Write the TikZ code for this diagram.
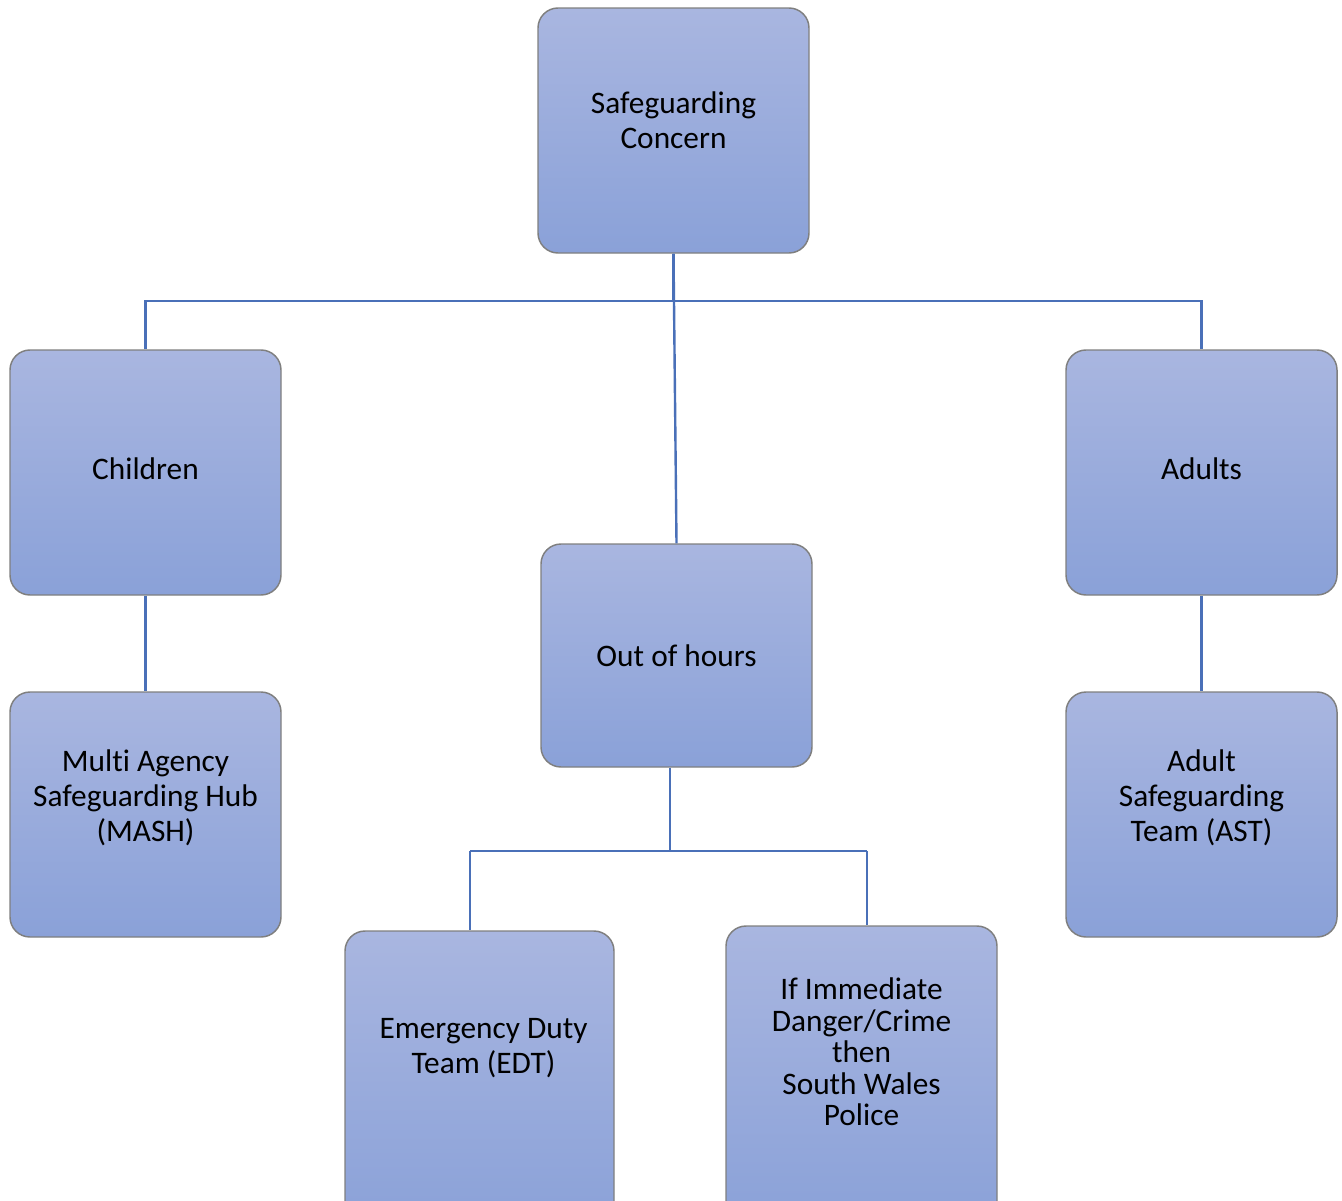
\documentclass[tikz,border=0pt]{standalone}
\usepackage{fontspec}
\setmainfont{Carlito}[Ligatures={NoCommon}]
\definecolor{boxtop}{HTML}{A9B6E0}
\definecolor{boxbot}{HTML}{8AA1D8}
\definecolor{boxline}{HTML}{7F7F7F}
\definecolor{connblue}{HTML}{4A70B8}
\begin{document}
\begin{tikzpicture}[x=0.75pt,y=-0.75pt,
  box/.style={draw=boxline, line width=1.1pt, rounded corners=15pt,
    top color=boxtop, bottom color=boxbot,
    minimum width=203.25pt, minimum height=183.75pt, inner sep=0pt},
  lbl/.style={font=\fontsize{23.5}{26.25}\selectfont, align=center, inner sep=0pt, text=black},
  conn/.style={draw=connblue, line width=1.8pt}]
\useasboundingbox (0,0) rectangle (1342,1200);
\begin{scope}
\clip (0,0) rectangle (1342,1200);
\node[box] (concern) at (673.5,130.5) {};
\node[box] (children) at (145.5,472.5) {};
\node[box] (adults) at (1201.5,472.5) {};
\node[box, minimum height=167.25pt] (ooh) at (676.5,655.5) {};
\node[box] (mash) at (145.5,814.5) {};
\node[box] (ast) at (1201.5,814.5) {};
\node[box, minimum width=201.75pt, minimum height=225pt] (edt) at (479.5,1081) {};
\node[box, minimum height=225pt] (police) at (861.5,1076) {};

\coordinate (j1) at (673.5,301);
\coordinate (j2) at (670,851);
\coordinate (e1) at (470,851);
\coordinate (p1) at (867,851);

\draw[conn] (concern.south) -- (j1);
\draw[conn] (children.north) |- (j1) -| (adults.north);
\draw[conn] (concern.south) -- (ooh.north);
\draw[conn] (children.south) -- (mash.north);
\draw[conn] (adults.south) -- (ast.north);
\draw[conn] (ooh.south -| j2) -- (j2);
\draw[conn] (e1) -- (p1);
\draw[conn] (e1) -- (edt.north -| e1);
\draw[conn] (p1) -- (police.north -| p1);

\node[lbl] (tconcern) at (673.5,120.5) {Safeguarding\\Concern};
\node[lbl] (tchildren) at (145.5,469) {Children};
\node[lbl] (tadults) at (1201.5,469) {Adults};
\node[lbl] (tooh) at (676.5,656) {Out of hours};
\node[lbl] (tmash) at (145.5,797.5) {Multi Agency\\Safeguarding Hub\\(MASH)};
\node[lbl] (tast) at (1201.5,797.5) {Adult\\Safeguarding\\Team (AST)};
\node[lbl] (tedt) at (483.5,1048) {Emergency Duty\\Team (EDT)};
\node[lbl, font=\fontsize{23.5}{23.6}\selectfont] (tpolice) at (861.5,1052) {If Immediate\\Danger/Crime\\then\\South Wales\\Police};
\end{scope}
\end{tikzpicture}
\end{document}
